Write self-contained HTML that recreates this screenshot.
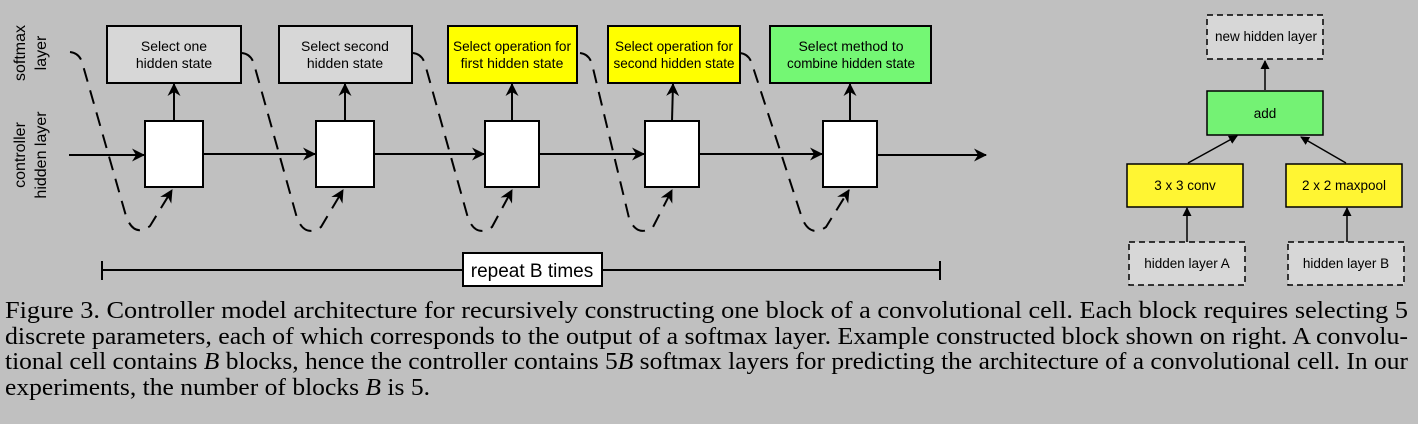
<!DOCTYPE html>
<html><head><meta charset="utf-8"><style>
html,body{margin:0;padding:0;background:#c0c0c0;}
svg{display:block}
</style></head><body>
<svg width="1418" height="424" viewBox="0 0 1418 424" xmlns="http://www.w3.org/2000/svg">
<defs>
<marker id="ah" markerWidth="13" markerHeight="13" refX="12" refY="6.5" orient="auto" markerUnits="userSpaceOnUse"><path d="M0,0 L13,6.5 L0,13 L4,6.5 z" fill="#000"/></marker>
<marker id="ahs" markerWidth="9" markerHeight="9" refX="8" refY="4.5" orient="auto" markerUnits="userSpaceOnUse"><path d="M0,0 L9,4.5 L0,9 z" fill="#000"/></marker>
</defs>
<rect width="1418" height="424" fill="#c0c0c0"/>
<g font-family="Liberation Sans, sans-serif" font-size="16" fill="#000" text-anchor="middle">
<text transform="translate(21,53) rotate(-90)" dominant-baseline="middle">softmax</text>
<text transform="translate(42,53) rotate(-90)" dominant-baseline="middle">layer</text>
<text transform="translate(21,155) rotate(-90)" dominant-baseline="middle">controller</text>
<text transform="translate(42,155) rotate(-90)" dominant-baseline="middle">hidden layer</text>
</g>
<g stroke="#000" stroke-width="2" fill="none">
<line x1="69" y1="155" x2="144" y2="155" marker-end="url(#ah)"/>
<line x1="203" y1="154" x2="315" y2="154" marker-end="url(#ah)"/>
<line x1="374" y1="154" x2="484" y2="154" marker-end="url(#ah)"/>
<line x1="539" y1="154" x2="644" y2="154" marker-end="url(#ah)"/>
<line x1="699" y1="154" x2="822" y2="154" marker-end="url(#ah)"/>
<line x1="877" y1="155" x2="986" y2="155" marker-end="url(#ah)"/>
<line x1="174" y1="121" x2="174" y2="84" marker-end="url(#ah)"/>
<line x1="345" y1="121" x2="345" y2="84" marker-end="url(#ah)"/>
<line x1="512" y1="121" x2="512" y2="84" marker-end="url(#ah)"/>
<line x1="672" y1="121" x2="673" y2="84" marker-end="url(#ah)"/>
<line x1="850" y1="121" x2="850" y2="84" marker-end="url(#ah)"/>
</g>
<g stroke="#000" stroke-width="2" fill="none" stroke-dasharray="14,9">
<path d="M70,52 Q79,53 82,62 L126,216 Q134,238 150,226 L172,190" marker-end="url(#ah)"/>
<path d="M242,53 Q251,54 254,64 L297,218 Q305,238 321,227 L343,190" marker-end="url(#ah)"/>
<path d="M413,53 Q422,54 425,64 L468,218 Q476,238 492,227 L512,190" marker-end="url(#ah)"/>
<path d="M580,53 Q589,54 592,64 L629,218 Q637,238 653,227 L672,190" marker-end="url(#ah)"/>
<path d="M740,53 Q749,54 752,64 L802,218 Q810,238 826,227 L849,190" marker-end="url(#ah)"/>
</g>
<g stroke="#000" stroke-width="2">
<rect x="107" y="26" width="134" height="57" fill="#d7d7d7"/>
<rect x="279" y="26" width="133" height="57" fill="#d7d7d7"/>
<rect x="448" y="26" width="129" height="57" fill="#ffff00"/>
<rect x="608" y="26" width="132" height="57" fill="#ffff00"/>
<rect x="770" y="26" width="161" height="57" fill="#74f774"/>
<rect x="145" y="121" width="58" height="66" fill="#fff"/>
<rect x="316" y="121" width="58" height="66" fill="#fff"/>
<rect x="485" y="121" width="54" height="66" fill="#fff"/>
<rect x="645" y="121" width="54" height="66" fill="#fff"/>
<rect x="823" y="121" width="54" height="66" fill="#fff"/>
</g>
<g font-family="Liberation Sans, sans-serif" font-size="14" fill="#000" text-anchor="middle">
<text x="174" y="51">Select one</text><text x="174" y="68">hidden state</text>
<text x="345" y="51">Select second</text><text x="345" y="68">hidden state</text>
<text x="512" y="51" textLength="118" lengthAdjust="spacingAndGlyphs">Select operation for</text><text x="512" y="68">first hidden state</text>
<text x="674" y="51" textLength="118" lengthAdjust="spacingAndGlyphs">Select operation for</text><text x="674" y="68" textLength="121" lengthAdjust="spacingAndGlyphs">second hidden state</text>
<text x="851" y="51">Select method to</text><text x="851" y="68" textLength="128" lengthAdjust="spacingAndGlyphs">combine hidden state</text>
</g>
<g stroke="#000" stroke-width="2">
<line x1="102" y1="270" x2="940" y2="270"/>
<line x1="102" y1="261" x2="102" y2="280"/>
<line x1="940" y1="261" x2="940" y2="280"/>
<rect x="463" y="253" width="139" height="33" fill="#fff"/>
</g>
<text x="532" y="277" font-family="Liberation Sans, sans-serif" font-size="19" text-anchor="middle">repeat B times</text>
<g stroke="#000" stroke-width="1.5">
<line x1="1265" y1="90" x2="1265" y2="61" marker-end="url(#ahs)"/>
<line x1="1188" y1="163" x2="1237" y2="136" marker-end="url(#ahs)"/>
<line x1="1346" y1="163" x2="1301" y2="137" marker-end="url(#ahs)"/>
<line x1="1187" y1="242" x2="1187" y2="208" marker-end="url(#ahs)"/>
<line x1="1347" y1="242" x2="1347" y2="208" marker-end="url(#ahs)"/>
<rect x="1207" y="15" width="116" height="44" fill="#d7d7d7" stroke-dasharray="6,4"/>
<rect x="1207" y="91" width="116" height="44" fill="#74f274"/>
<rect x="1127" y="164" width="116" height="43" fill="#fff533"/>
<rect x="1286" y="164" width="116" height="43" fill="#fff533"/>
<rect x="1129" y="242" width="116" height="43" fill="#d7d7d7" stroke-dasharray="6,4"/>
<rect x="1288" y="242" width="116" height="43" fill="#d7d7d7" stroke-dasharray="6,4"/>
</g>
<g font-family="Liberation Sans, sans-serif" font-size="13.5" fill="#000" text-anchor="middle">
<text x="1266" y="41">new hidden layer</text>
<text x="1265" y="118">add</text>
<text x="1185" y="190">3 x 3 conv</text>
<text x="1344" y="190">2 x 2 maxpool</text>
<text x="1187" y="268">hidden layer A</text>
<text x="1346" y="268">hidden layer B</text>
</g>
<g font-family="Liberation Serif, serif" font-size="24" fill="#000">
<text x="5" y="318" textLength="1403" lengthAdjust="spacingAndGlyphs">Figure 3. Controller model architecture for recursively constructing one block of a convolutional cell.  Each block requires selecting 5</text>
<text x="5" y="344" textLength="1403" lengthAdjust="spacingAndGlyphs">discrete parameters, each of which corresponds to the output of a softmax layer.  Example constructed block shown on right.  A convolu-</text>
<text x="5" y="369" textLength="1403" lengthAdjust="spacingAndGlyphs">tional cell contains <tspan font-style="italic">B</tspan> blocks, hence the controller contains 5<tspan font-style="italic">B</tspan> softmax layers for predicting the architecture of a convolutional cell.  In our</text>
<text x="5" y="395" textLength="425" lengthAdjust="spacingAndGlyphs">experiments, the number of blocks <tspan font-style="italic">B</tspan> is 5.</text>
</g>
</svg>
</body></html>
